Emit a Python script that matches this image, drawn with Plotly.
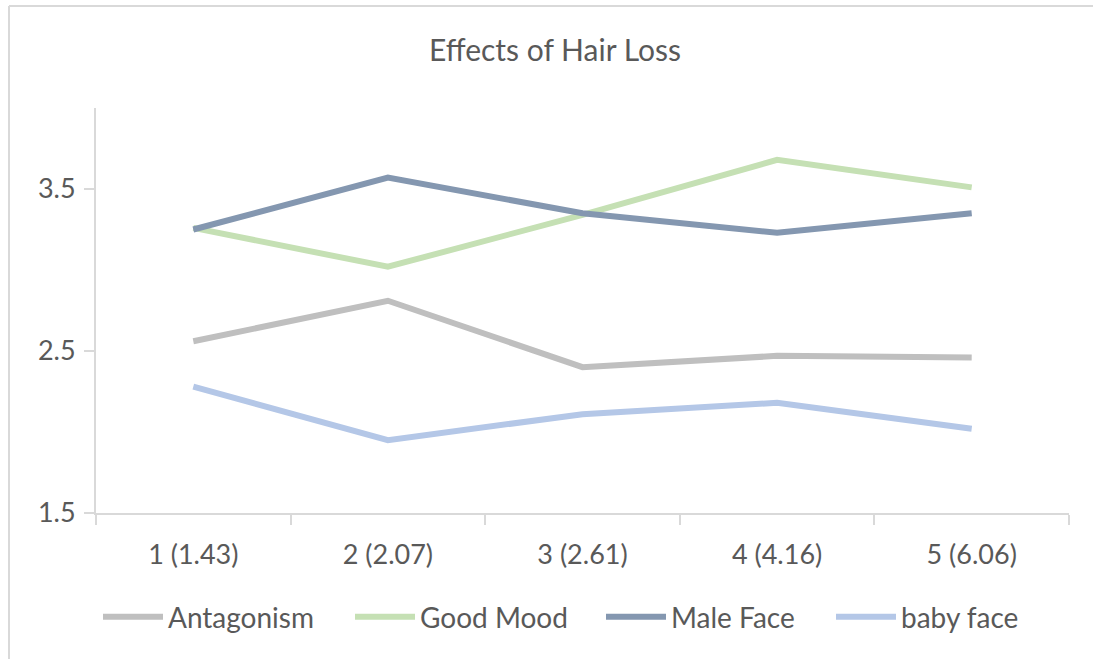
import plotly.graph_objects as go

categories = ["1 (1.43)", "2 (2.07)", "3 (2.61)", "4 (4.16)", "5 (6.06)"]
antagonism = [2.56, 2.81, 2.40, 2.47, 2.46]
good_mood = [3.26, 3.02, 3.34, 3.68, 3.51]
male_face = [3.25, 3.57, 3.35, 3.23, 3.35]
baby_face = [2.28, 1.95, 2.11, 2.18, 2.02]

series = [
    ("Antagonism", antagonism, "#BFBFBF"),
    ("Good Mood", good_mood, "#C5E0B4"),
    ("Male Face", male_face, "#8497B0"),
    ("baby face", baby_face, "#B4C7E7"),
]

W, H = 1093, 659
ml, mr, mt, mb = 96, 24, 108, 146
pw, ph = W - ml - mr, H - mt - mb

def px_to_paper_x(px):
    return (px - ml) / pw

def px_to_paper_y(py):
    return (H - mb - py) / ph

legend_ids = ["legend", "legend2", "legend3", "legend4"]
legend_starts = [100, 352, 603, 833]

fig = go.Figure()
for (name, vals, color), lid in zip(series, legend_ids):
    fig.add_trace(go.Scatter(x=categories, y=vals, name=name, mode="lines",
                             line=dict(color=color, width=6), legend=lid))

font_family = "Lato, 'Open Sans', sans-serif"
legend_common = dict(orientation="h", xanchor="left", yanchor="middle",
                     y=px_to_paper_y(617), font=dict(size=28, color="#595959"),
                     itemwidth=60, bgcolor="rgba(0,0,0,0)", borderwidth=0)

layout_legends = {}
for lid, start in zip(legend_ids, legend_starts):
    layout_legends[lid] = dict(legend_common, x=px_to_paper_x(start - 2))

fig.update_layout(
    width=W, height=H,
    margin=dict(l=ml, r=mr, t=mt, b=mb),
    paper_bgcolor="white", plot_bgcolor="white",
    font=dict(family=font_family, color="#595959", size=24),
    title=dict(text="Effects of Hair Loss", xref="paper",
               x=px_to_paper_x(555), xanchor="center",
               y=1 - 50 / H, yanchor="middle",
               font=dict(size=30, color="#595959")),
    showlegend=True,
    xaxis=dict(type="category", range=[-0.5, 4.5], showline=True,
               linecolor="#D9D9D9", linewidth=2, ticks="outside",
               tickson="boundaries", ticklen=10, tickcolor="#D9D9D9",
               tickwidth=2, showgrid=False, zeroline=False,
               ticklabelstandoff=17,
               tickfont=dict(size=27, color="#595959")),
    yaxis=dict(range=[1.5, 4.0], tickvals=[1.5, 2.5, 3.5],
               ticktext=["1.5", "2.5", "3.5"], showline=True,
               linecolor="#D9D9D9", linewidth=2, ticks="outside",
               ticklen=10, tickcolor="#D9D9D9", tickwidth=2,
               showgrid=False, zeroline=False,
               ticklabelstandoff=3,
               tickfont=dict(size=27, color="#595959")),
    shapes=[
        dict(type="line", xref="paper", yref="paper",
             x0=px_to_paper_x(9), x1=px_to_paper_x(W + 5),
             y0=px_to_paper_y(6), y1=px_to_paper_y(6),
             line=dict(color="#D9D9D9", width=2)),
        dict(type="line", xref="paper", yref="paper",
             x0=px_to_paper_x(9), x1=px_to_paper_x(9),
             y0=px_to_paper_y(6), y1=px_to_paper_y(H + 5),
             line=dict(color="#D9D9D9", width=2)),
    ],
    **layout_legends,
)

fig.write_html("out.html", config={"displayModeBar": False},
               post_script="document.body.style.margin='0';")
